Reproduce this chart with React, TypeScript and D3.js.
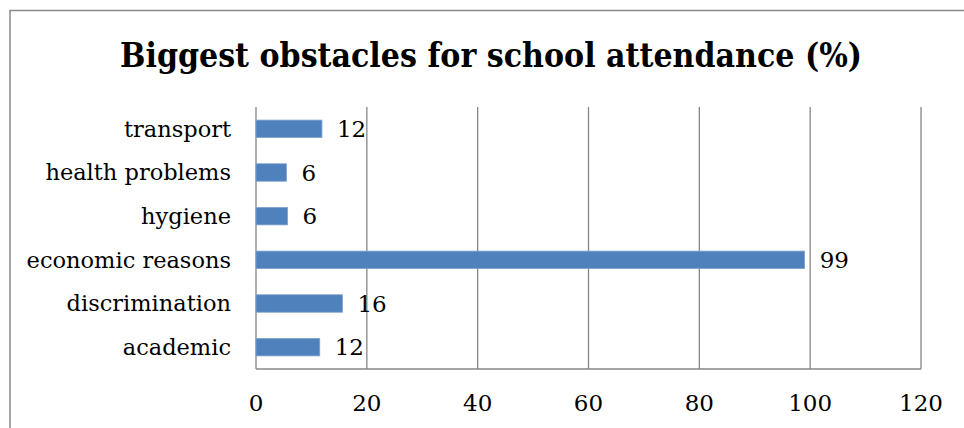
import React from "react";
import * as d3 from "d3";

const categories = ["transport", "health problems", "hygiene", "economic reasons", "discrimination", "academic"];
const values = [11.9, 5.5, 5.7, 99, 15.6, 11.5];
const labels = ["12", "6", "6", "99", "16", "12"];
const ticks = [0, 20, 40, 60, 80, 100, 120];
const title = "Biggest obstacles for school attendance (%)";

export default function App() {
  const W = 964, H = 428;
  const left = 256, right = 921, top = 107, bottom = 369;
  const x = d3.scaleLinear().domain([0, 120]).range([left, right]);
  const y = d3.scaleBand<string>().domain(categories).range([top, bottom]).paddingInner(0.6).paddingOuter(0.3);
  const font = "'DejaVu Serif', 'Liberation Serif', serif";
  return (
    <svg width={W} height={H} style={{ position: "absolute", left: 0, top: 0, background: "#fff" }}>
      <rect x={10} y={10.5} width={1000} height={600} fill="#fff" stroke="#898989" strokeWidth={1.5} />
      <text x={491} y={67} textAnchor="middle" fontFamily={font} fontWeight="bold" fontSize={34} textLength={742} lengthAdjust="spacingAndGlyphs" fill="#000">{title}</text>
      {ticks.map((t) => (
        <line key={"g" + t} x1={x(t)} x2={x(t)} y1={top} y2={bottom} stroke="#868686" strokeWidth={1.3} />
      ))}
      <line x1={left} x2={right} y1={bottom} y2={bottom} stroke="#868686" strokeWidth={1.3} />
      {categories.map((c, i) => (
        <g key={c}>
          <rect x={x(0)} y={y(c)!} width={x(values[i]) - x(0)} height={y.bandwidth()} fill="#4F81BD" stroke="#7FA2CF" strokeWidth={0.8} />
          <text x={x(values[i]) + 15} y={y(c)! + y.bandwidth() / 2} dy="0.35em" fontFamily={font} fontSize={23} fill="#000">{labels[i]}</text>
          <text x={231} y={y(c)! + y.bandwidth() / 2} dy="0.35em" textAnchor="end" fontFamily={font} fontSize={22.5} fill="#000">{c}</text>
        </g>
      ))}
      {ticks.map((t) => (
        <text key={"t" + t} x={x(t)} y={411} textAnchor="middle" fontFamily={font} fontSize={23} fill="#000">{t}</text>
      ))}
    </svg>
  );
}
